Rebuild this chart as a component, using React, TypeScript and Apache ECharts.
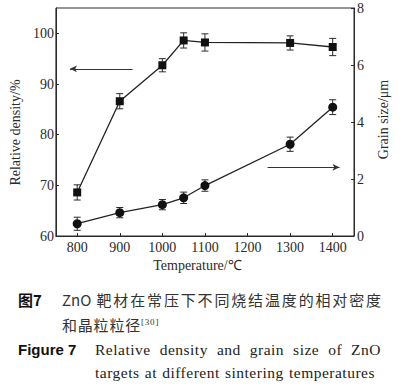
import React, { useEffect, useRef } from "react";
import * as echarts from "echarts";

const temperatures = [800, 900, 1000, 1050, 1100, 1300, 1400];
const density = [68.6, 86.6, 93.7, 98.6, 98.2, 98.1, 97.3];
const densityErr = [1.5, 1.5, 1.3, 1.5, 1.7, 1.4, 1.7];
const grainSize = [0.43, 0.82, 1.1, 1.34, 1.77, 3.22, 4.52];
const grainErr = [0.23, 0.18, 0.18, 0.2, 0.2, 0.25, 0.26];
const xTicks = [800, 900, 1000, 1100, 1200, 1300, 1400];
const densityTicks = [60, 70, 80, 90, 100];
const leftArrow = [[930, 93], [783, 93]];
const rightArrow = [[1247, 2.41], [1416, 2.41]];

const FONT = "'Liberation Serif', 'Times New Roman', serif";
const INK = "#2a2a2a";

function errorSeries(values: number[], errs: number[], yAxisIndex: number) {
  const data = temperatures.map((t, i) => [t, values[i] - errs[i], values[i] + errs[i]]);
  return {
    type: "custom",
    yAxisIndex,
    silent: true,
    z: 1,
    data,
    renderItem: (params: any, api: any) => {
      const x = api.value(0);
      const lo = api.coord([x, api.value(1)]);
      const hi = api.coord([x, api.value(2)]);
      const w = 3.5;
      const style = { stroke: INK, lineWidth: 1, fill: "none" };
      return {
        type: "group",
        children: [
          { type: "line", shape: { x1: lo[0], y1: lo[1], x2: hi[0], y2: hi[1] }, style },
          { type: "line", shape: { x1: lo[0] - w, y1: lo[1], x2: lo[0] + w, y2: lo[1] }, style },
          { type: "line", shape: { x1: hi[0] - w, y1: hi[1], x2: hi[0] + w, y2: hi[1] }, style },
        ],
      };
    },
  };
}

function arrowLine(pts: number[][]) {
  return {
    silent: true,
    symbol: ["none", "arrow"],
    symbolSize: [5, 7],
    lineStyle: { color: "#333", width: 1, type: "solid" },
    itemStyle: { color: "#333" },
    label: { show: false },
    emphasis: { disabled: true },
    data: [[{ coord: pts[0] }, { coord: pts[1] }]],
  };
}

function Chart() {
  const ref = useRef<HTMLDivElement>(null);
  useEffect(() => {
    if (!ref.current) return;
    const chart = echarts.init(ref.current, null, { renderer: "svg" });
    const axisLine = { show: true, lineStyle: { color: INK, width: 1 } };
    const txt = { fontSize: 14, fontFamily: FONT, color: INK };
    const plain = (v: number) => String(v);
    chart.setOption({
      animation: false,
      textStyle: { fontFamily: FONT, color: INK },
      grid: {
        left: 49,
        right: 54,
        top: 8,
        bottom: 151,
        show: true,
        borderColor: INK,
        borderWidth: 1,
        backgroundColor: "transparent",
      },
      xAxis: {
        type: "value",
        min: 750,
        max: 1450,
        axisLine: { ...axisLine, onZero: false },
        splitLine: { show: false },
        axisTick: { inside: true, length: 3, customValues: xTicks, lineStyle: { color: INK } },
        axisLabel: { customValues: xTicks, margin: 4, formatter: plain, ...txt },
        name: "Temperature/℃",
        nameLocation: "middle",
        nameGap: 22,
        nameTextStyle: { ...txt, padding: [0, 15, 0, 0] },
      },
      yAxis: [
        {
          type: "value",
          min: 60,
          max: 105,
          position: "left",
          axisLine,
          splitLine: { show: false },
          axisTick: { inside: true, length: 3, customValues: densityTicks, lineStyle: { color: INK } },
          axisLabel: { customValues: densityTicks, margin: 2, formatter: plain, ...txt },
          name: "Relative density/%",
          nameLocation: "middle",
          nameGap: 25,
          nameTextStyle: { ...txt, padding: [0, 21, 0, 0] },
        },
        {
          type: "value",
          min: 0,
          max: 8,
          interval: 2,
          position: "right",
          axisLine,
          splitLine: { show: false },
          axisTick: { inside: true, length: 3, lineStyle: { color: INK } },
          axisLabel: { margin: 3, formatter: plain, ...txt },
          name: "Grain size/μm",
          nameLocation: "middle",
          nameGap: 22,
          nameTextStyle: { ...txt, padding: [0, 0, 0, 5] },
        },
      ],
      series: [
        errorSeries(density, densityErr, 0),
        errorSeries(grainSize, grainErr, 1),
        {
          type: "line",
          yAxisIndex: 0,
          data: temperatures.map((t, i) => [t, density[i]]),
          symbol: "rect",
          symbolSize: 8,
          lineStyle: { color: "#222", width: 1.3 },
          itemStyle: { color: "#111" },
          z: 3,
          markLine: arrowLine(leftArrow),
        },
        {
          type: "line",
          yAxisIndex: 1,
          data: temperatures.map((t, i) => [t, grainSize[i]]),
          symbol: "circle",
          symbolSize: 9,
          lineStyle: { color: "#222", width: 1.3 },
          itemStyle: { color: "#111" },
          z: 3,
          markLine: arrowLine(rightArrow),
        },
      ],
    });
    return () => chart.dispose();
  }, []);
  return <div ref={ref} style={{ width: 408, height: 387, position: "absolute", left: 0, top: 0 }} />;
}

const cnFont = "'Noto Sans CJK SC', sans-serif";
const enFont = "'Liberation Serif', 'Times New Roman', serif";
const boldFont = "'Liberation Sans', Arial, sans-serif";

const captionCn1 = "ZnO 靶材在常压下不同烧结温度的相对密度";
const captionCn2 = "和晶粒粒径";
const captionRef = "[30]";
const captionEn1 = "Relative density and grain size of ZnO";
const captionEn2 = "targets at different sintering temperatures";

export default function App() {
  const line = (extra: React.CSSProperties): React.CSSProperties => ({
    position: "absolute",
    whiteSpace: "nowrap",
    lineHeight: "20px",
    color: "#222",
    ...extra,
  });
  return (
    <div style={{ position: "absolute", left: 0, top: 0, width: 408, height: 387, background: "#fff" }}>
      <Chart />
      <div style={line({ left: 18, top: 290, fontFamily: cnFont, fontWeight: 700, fontSize: 15, color: "#111" })}>图7</div>
      <div
        style={line({
          left: 62,
          top: 290,
          width: 319,
          fontFamily: cnFont,
          fontSize: 15,
          textAlign: "justify",
          textAlignLast: "justify",
          color: "#333",
        })}
      >
        {captionCn1}
      </div>
      <div style={line({ left: 62, top: 312, fontFamily: cnFont, fontSize: 15, letterSpacing: 0.8, color: "#333" })}>
        {captionCn2}
        <sup style={{ fontFamily: enFont, fontSize: 9, verticalAlign: "6px" }}>{captionRef}</sup>
      </div>
      <div style={line({ left: 18, top: 340, fontFamily: boldFont, fontWeight: 700, fontSize: 15, color: "#111" })}>
        Figure 7
      </div>
      <div
        style={line({
          left: 95,
          top: 340,
          width: 286,
          fontFamily: enFont,
          fontSize: 15.5,
          letterSpacing: 0.5,
          textAlign: "justify",
          textAlignLast: "justify",
        })}
      >
        {captionEn1}
      </div>
      <div
        style={line({
          left: 95,
          top: 363,
          width: 280,
          fontFamily: enFont,
          fontSize: 15.5,
          letterSpacing: 0.5,
          textAlign: "justify",
          textAlignLast: "justify",
        })}
      >
        {captionEn2}
      </div>
    </div>
  );
}
